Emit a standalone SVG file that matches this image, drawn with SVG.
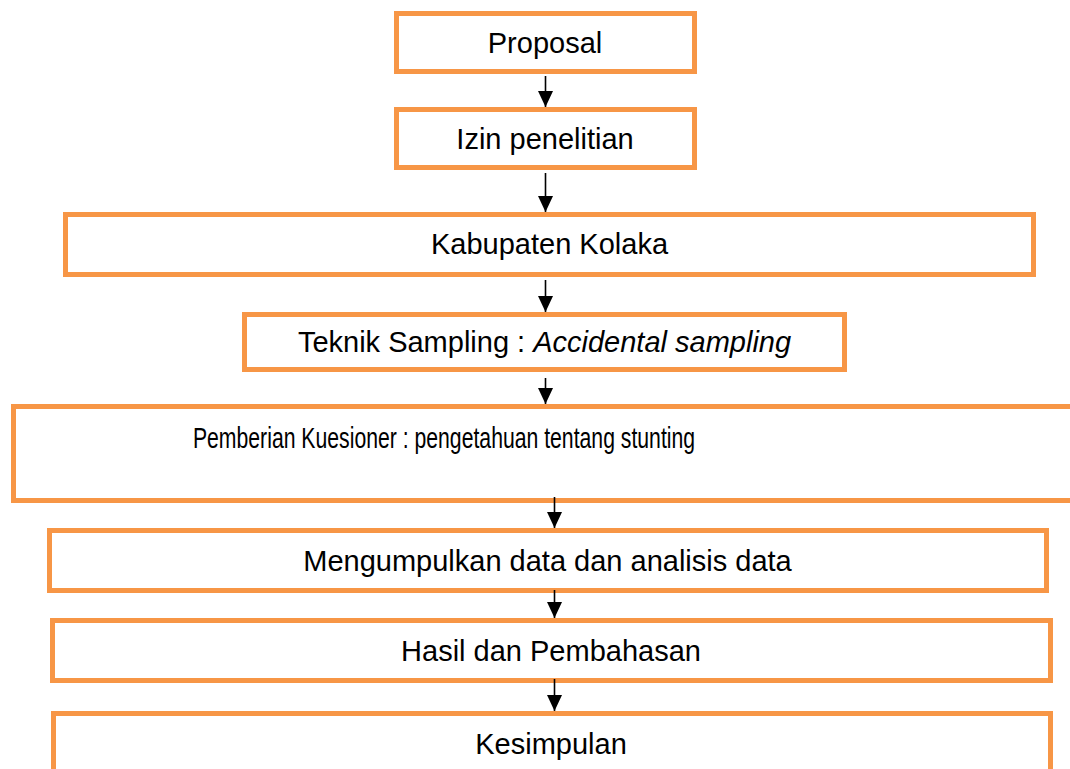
<svg xmlns="http://www.w3.org/2000/svg" width="1070" height="769" viewBox="0 0 1070 769">
<style>
.box{fill:#fff;stroke:#F79646;stroke-width:5}
.t{font-family:"Liberation Sans",Arial,sans-serif;font-size:29px;fill:#000;text-anchor:middle}
.c{stroke:#000;stroke-width:1.6;fill:none;marker-end:url(#ah)}
</style>
<defs>
<marker id="ah" markerUnits="userSpaceOnUse" markerWidth="16" markerHeight="16" refX="16" refY="7.5" orient="auto" viewBox="0 0 16 15">
<path d="M0,0 L16,7.5 L0,15 Z" fill="#000"/>
</marker>
</defs>
<rect width="1070" height="769" fill="#fff"/>
<g id="n1"><rect class="box" x="396.5" y="13.5" width="298" height="58"/><text class="t" x="545" y="53">Proposal</text></g>
<g id="n2"><rect class="box" x="396.5" y="109.5" width="298" height="58"/><text class="t" x="545" y="149">Izin penelitian</text></g>
<g id="n3"><rect class="box" x="65.5" y="214.5" width="968" height="60"/><text class="t" x="549.5" y="254">Kabupaten Kolaka</text></g>
<g id="n4"><rect class="box" x="244.5" y="314.5" width="600" height="55"/><text class="t" x="544.5" y="352">Teknik Sampling : <tspan font-style="italic">Accidental sampling</tspan></text></g>
<g id="n5"><rect class="box" x="13.5" y="406.5" width="1080" height="94"/><text class="t" style="font-size:30px" transform="translate(444 448) scale(0.707 1)" x="0" y="0">Pemberian Kuesioner : pengetahuan tentang stunting</text></g>
<g id="n6"><rect class="box" x="49.5" y="530.5" width="997" height="60"/><text class="t" x="547.5" y="571">Mengumpulkan data dan analisis data</text></g>
<g id="n7"><rect class="box" x="52.5" y="620.5" width="998" height="60"/><text class="t" x="551" y="661">Hasil dan Pembahasan</text></g>
<g id="n8"><rect class="box" x="53.5" y="713.5" width="997" height="100"/><text class="t" x="551" y="754">Kesimpulan</text></g>
<g id="connectors">
<line class="c" x1="545.5" y1="76" x2="545.5" y2="107"/>
<line class="c" x1="545.5" y1="173" x2="545.5" y2="212"/>
<line class="c" x1="545.5" y1="280" x2="545.5" y2="312"/>
<line class="c" x1="545.5" y1="378" x2="545.5" y2="404"/>
<line class="c" x1="554.5" y1="497" x2="554.5" y2="528"/>
<line class="c" x1="554.5" y1="590" x2="554.5" y2="618"/>
<line class="c" x1="554.5" y1="679" x2="554.5" y2="711"/>
</g>
</svg>
